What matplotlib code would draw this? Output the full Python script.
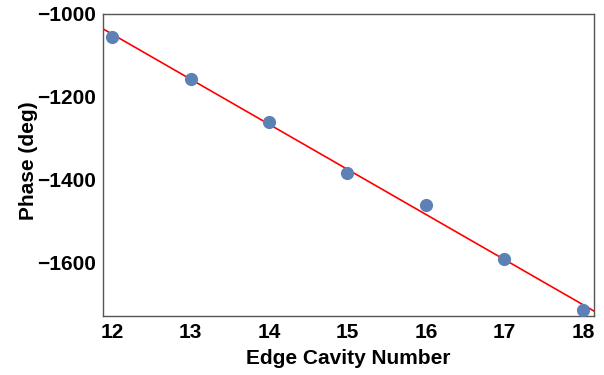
import numpy as np
import matplotlib
matplotlib.use("Agg")
import matplotlib.pyplot as plt

plt.rcParams['font.family'] = ['Liberation Sans', 'DejaVu Sans']
plt.rcParams['font.weight'] = 'bold'

cavity = [12, 13, 14, 15, 16, 17, 18]
phase = [-1056, -1157, -1261, -1384, -1462, -1593, -1716]
x_ticks = [12, 13, 14, 15, 16, 17, 18]
y_ticks = [-1600, -1400, -1200, -1000]

fig = plt.figure(figsize=(6.04, 3.75), dpi=100)
ax = fig.add_axes([0.1705, 0.1573, 0.8129, 0.8054])

xlo, xhi = 11.885, 18.14
coef = np.polyfit(cavity, phase, 1)
xs = np.array([xlo, xhi])
ax.plot(xs, np.polyval(coef, xs), color='#FF0000', lw=1.2, zorder=2)
ax.plot(cavity, phase, 'o', color='#5E81B5', ms=9.5, mec='none', zorder=3, clip_on=False)

ax.set_xlim(xlo, xhi)
ax.set_ylim(-1730, -1000)
ax.set_xticks(x_ticks)
ax.set_yticks(y_ticks)
ax.set_yticklabels(['\u2212' + str(abs(v)) for v in y_ticks])
ax.tick_params(length=0, labelsize=15, pad=5)
for lab in ax.get_xticklabels() + ax.get_yticklabels():
    lab.set_fontweight('bold')
for s in ax.spines.values():
    s.set_color('#555555')
    s.set_linewidth(1.0)

ax.set_xlabel('Edge Cavity Number', fontsize=15, fontweight='bold', labelpad=5)
ax.set_ylabel('Phase (deg)', fontsize=15, fontweight='bold')
ax.yaxis.set_label_coords(-0.133, 0.515)

fig.savefig('out.png', dpi=100)
